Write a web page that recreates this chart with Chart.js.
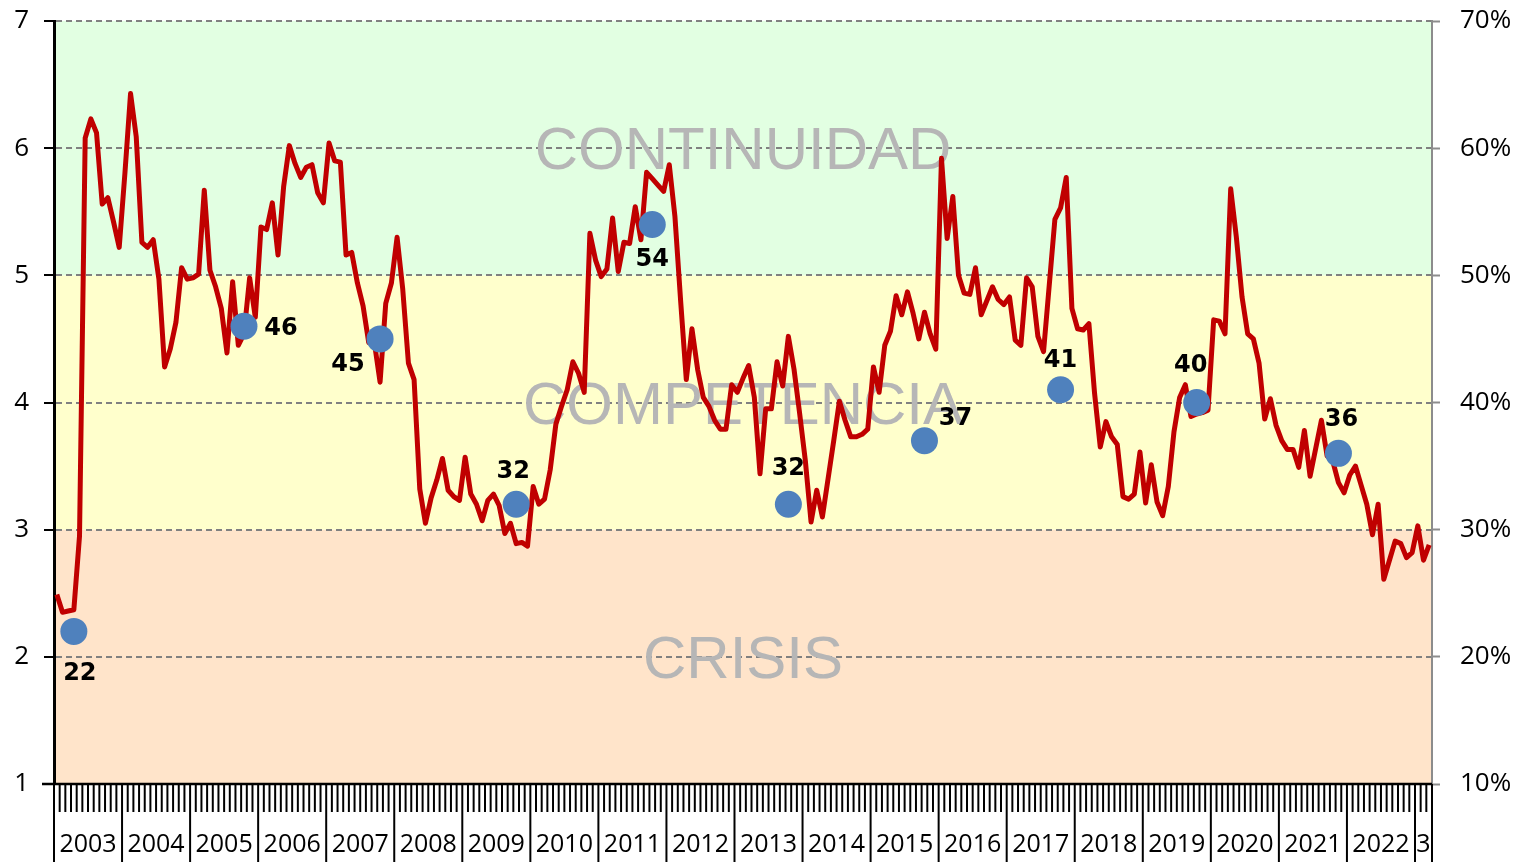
<!DOCTYPE html>
<html>
<head>
<meta charset="utf-8">
<script src="https://cdn.jsdelivr.net/npm/chart.js@4.4.1/dist/chart.umd.min.js"></script>
<style>
html,body{margin:0;padding:0;background:#fff;overflow:hidden;}
#wrap{width:1526px;height:862px;position:relative;}
</style>
</head>
<body>
<div id="wrap"><canvas id="c" width="1526" height="862"></canvas></div>
<script>
// ---------------- DATA ----------------
const startYear = 2003;
const monthCount = 243; // Jan 2003 .. Mar 2023
const yearLabels = ['2003','2004','2005','2006','2007','2008','2009','2010','2011','2012',
                    '2013','2014','2015','2016','2017','2018','2019','2020','2021','2022','3'];
const indexValues = [
  2.49,2.35,2.36,2.37,2.95,6.08,6.23,6.12,5.56,5.61,5.42,5.22,
  5.80,6.43,6.09,5.26,5.22,5.28,4.97,4.28,4.42,4.63,5.06,4.97,
  4.98,5.01,5.67,5.04,4.91,4.74,4.39,4.95,4.45,4.54,4.98,4.67,
  5.38,5.36,5.57,5.16,5.70,6.02,5.88,5.77,5.85,5.87,5.65,5.57,
  6.04,5.90,5.89,5.16,5.18,4.94,4.76,4.47,4.47,4.16,4.78,4.94,
  5.30,4.89,4.31,4.18,3.32,3.05,3.25,3.39,3.56,3.31,3.26,3.23,
  3.57,3.28,3.20,3.07,3.23,3.28,3.19,2.97,3.05,2.89,2.90,2.87,
  3.34,3.20,3.24,3.47,3.83,3.97,4.10,4.32,4.23,4.08,5.33,5.12,
  4.99,5.05,5.45,5.03,5.26,5.25,5.54,5.28,5.81,5.76,5.71,5.66,
  5.87,5.46,4.80,4.18,4.58,4.26,4.04,3.97,3.86,3.79,3.79,4.14,
  4.08,4.19,4.29,4.04,3.44,3.95,3.95,4.32,4.13,4.52,4.26,3.91,
  3.54,3.06,3.31,3.10,3.40,3.70,4.01,3.86,3.73,3.73,3.75,3.79,
  4.28,4.08,4.45,4.56,4.84,4.69,4.87,4.70,4.50,4.71,4.54,4.42,
  5.92,5.29,5.62,5.00,4.86,4.85,5.06,4.69,4.80,4.91,4.81,4.77,
  4.83,4.49,4.45,4.98,4.91,4.52,4.40,4.92,5.44,5.53,5.77,4.74,
  4.58,4.57,4.62,4.07,3.65,3.85,3.73,3.67,3.26,3.24,3.28,3.61,
  3.21,3.51,3.22,3.11,3.34,3.77,4.04,4.14,3.89,3.91,3.92,3.94,
  4.65,4.64,4.54,5.68,5.30,4.83,4.54,4.50,4.31,3.87,4.03,3.82,
  3.70,3.63,3.63,3.49,3.78,3.42,3.64,3.86,3.58,3.54,3.37,3.29,
  3.43,3.50,3.35,3.20,2.96,3.20,2.61,2.76,2.91,2.89,2.78,2.82,
  3.03,2.76,2.88
];
const pollMonths = [3, 33, 57, 81, 105, 129, 153, 177, 201, 226];
const pollValues = [22, 46, 45, 32, 54, 32, 37, 41, 40, 36];
const bandLimits = [1, 3, 5, 7];
const bandNames = ['CRISIS', 'COMPETENCIA', 'CONTINUIDAD'];

// ---------------- STYLES ----------------
const bandColors = ['#FFE4CA', '#FFFFCC', '#E2FFE2'];
const dotLabelOffsets = [[6,42],[37,3],[-32,26],[-3,-32],[0,35],[0,-35],[31,-22],[0,-29],[-6,-37],[3,-34]];

const monthLabels = [];
for (let i = 0; i < monthCount; i++) {
  const y = startYear + Math.floor(i / 12);
  const m = (i % 12) + 1;
  monthLabels.push(y + '-' + (m < 10 ? '0' + m : m));
}
const pollData = pollMonths.map((m, k) => ({ x: monthLabels[m], y: pollValues[k] }));

Chart.defaults.font.family = 'Open Sans';

const bandsPlugin = {
  id: 'bands',
  beforeDraw(chart) {
    const { ctx, chartArea, scales: { y } } = chart;
    ctx.save();
    for (let k = 0; k < bandColors.length; k++) {
      const top = y.getPixelForValue(bandLimits[k + 1]);
      const bot = y.getPixelForValue(bandLimits[k]);
      ctx.fillStyle = bandColors[k];
      ctx.fillRect(chartArea.left, top, chartArea.right - chartArea.left, bot - top);
    }
    ctx.restore();
  },
  beforeDatasetsDraw(chart) {
    const { ctx, chartArea, scales: { y } } = chart;
    ctx.save();
    ctx.font = '60px "Liberation Sans"';
    ctx.fillStyle = '#B6B6B6';
    ctx.textAlign = 'center';
    ctx.textBaseline = 'alphabetic';
    const cx = (chartArea.left + chartArea.right) / 2;
    for (let k = 0; k < bandNames.length; k++) {
      const mid = (bandLimits[k] + bandLimits[k + 1]) / 2;
      ctx.fillText(bandNames[k], cx, y.getPixelForValue(mid) + 21);
    }
    ctx.restore();
  }
};

const dotLabelPlugin = {
  id: 'dotLabels',
  afterDatasetsDraw(chart) {
    const { ctx } = chart;
    const meta = chart.getDatasetMeta(0);
    ctx.save();
    ctx.font = 'bold 24px "DejaVu Sans"';
    ctx.fillStyle = '#000';
    ctx.textAlign = 'center';
    ctx.textBaseline = 'middle';
    meta.data.forEach((pt, k) => {
      const off = dotLabelOffsets[k];
      ctx.fillText(String(pollValues[k]), pt.x + off[0], pt.y + off[1]);
    });
    ctx.restore();
  }
};

const xAxisPlugin = {
  id: 'xAxisDraw',
  afterDraw(chart) {
    const { ctx, chartArea, scales: { x } } = chart;
    const step = x.getPixelForValue(1) - x.getPixelForValue(0);
    const edge = i => x.getPixelForValue(0) - step / 2 + i * step;
    ctx.save();
    ctx.strokeStyle = '#000';
    ctx.lineWidth = 2;
    for (let i = 0; i <= monthCount; i++) {
      const px = edge(i);
      const isYear = (i % 12 === 0) || i === monthCount;
      ctx.beginPath();
      ctx.moveTo(px, chartArea.bottom);
      ctx.lineTo(px, isYear ? chart.height : chartArea.bottom + 28);
      ctx.stroke();
    }
    ctx.lineWidth = 2.5;
    ctx.beginPath();
    ctx.moveTo(chartArea.left - 12, chartArea.bottom);
    ctx.lineTo(chartArea.right, chartArea.bottom);
    ctx.stroke();
    ctx.font = '25px "Open Sans"';
    ctx.fillStyle = '#000';
    ctx.textAlign = 'center';
    ctx.textBaseline = 'middle';
    yearLabels.forEach((lab, k) => {
      const a = edge(k * 12);
      const b = edge(Math.min(k * 12 + 12, monthCount));
      ctx.fillText(lab, (a + b) / 2, chartArea.bottom + 61);
    });
    ctx.restore();
  }
};

new Chart(document.getElementById('c'), {
  data: {
    labels: monthLabels,
    datasets: [
      {
        type: 'scatter',
        label: 'Encuestas',
        data: pollData,
        yAxisID: 'y1',
        showLine: false,
        pointRadius: 13.5,
        pointHoverRadius: 13.5,
        backgroundColor: '#4F81BD',
        borderWidth: 0
      },
      {
        type: 'line',
        label: 'Índice',
        data: indexValues,
        yAxisID: 'y',
        borderColor: '#C00000',
        borderWidth: 5,
        pointRadius: 0,
        tension: 0,
        borderJoinStyle: 'round',
        fill: false
      }
    ]
  },
  options: {
    responsive: false,
    animation: false,
    devicePixelRatio: 1,
    layout: { padding: { top: 21, left: 0, right: 0, bottom: 0 } },
    plugins: { legend: { display: false }, tooltip: { enabled: false } },
    scales: {
      x: {
        type: 'category',
        offset: true,
        grid: { display: false },
        ticks: { display: false },
        border: { display: false },
        afterFit: s => { s.height = 78; s.paddingLeft = 0; s.paddingRight = 0; }
      },
      y: {
        position: 'left',
        min: 1, max: 7,
        ticks: { stepSize: 1, color: '#000', font: { family: 'Open Sans', size: 26 }, padding: 15 },
        grid: { color: '#808080', lineWidth: 2, tickLength: 10, tickColor: '#000', tickWidth: 2, tickBorderDash: [] },
        border: { display: true, color: '#000', width: 3, dash: [6, 4] },
        afterFit: s => { s.width = 54; s.paddingTop = 0; s.paddingBottom = 0; }
      },
      y1: {
        position: 'right',
        min: 10, max: 70,
        ticks: { stepSize: 10, color: '#000', font: { family: 'Open Sans', size: 26 }, padding: 20, callback: v => v + '%' },
        grid: { drawOnChartArea: false, tickLength: 8, tickColor: '#8C8C8C', tickWidth: 2 },
        border: { display: true, color: '#8C8C8C', width: 2 },
        afterFit: s => { s.width = 94; s.paddingTop = 0; s.paddingBottom = 0; }
      }
    }
  },
  plugins: [bandsPlugin, dotLabelPlugin, xAxisPlugin]
});
</script>
</body>
</html>
